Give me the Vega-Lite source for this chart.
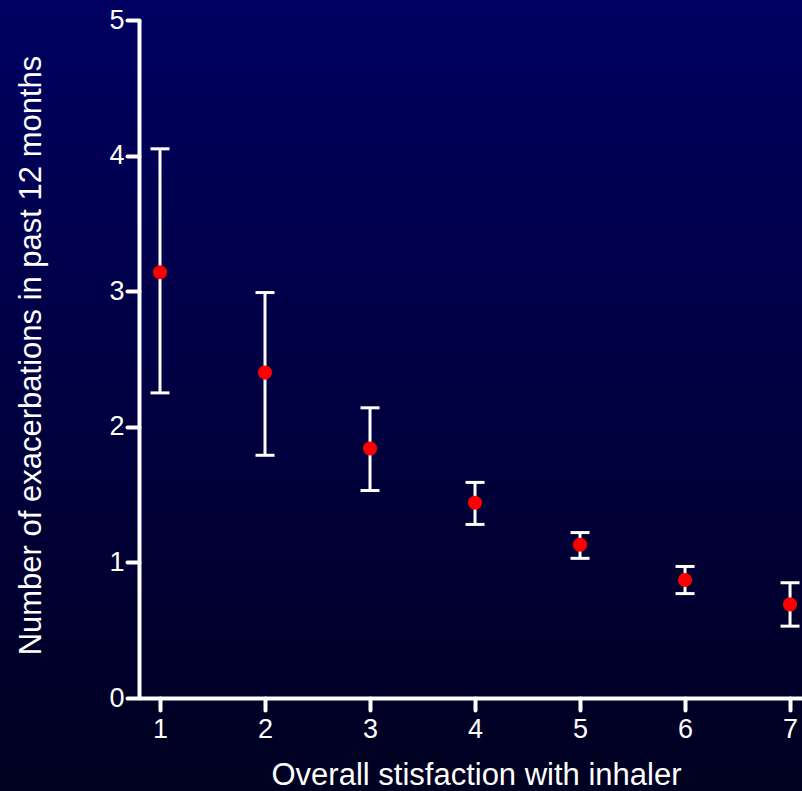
{
  "$schema": "https://vega.github.io/schema/vega-lite/v6.json",
  "width": 802,
  "height": 791,
  "autosize": {"type": "none"},
  "padding": 0,
  "background": "#000022",
  "config": {
    "view": {
      "stroke": null,
      "fill": {"gradient": "linear", "x1": 0, "y1": 0, "x2": 0, "y2": 1,
        "stops": [{"offset": 0, "color": "#000062"}, {"offset": 1, "color": "#000020"}]}
    },
    "axis": {
      "domainColor": "white", "domainWidth": 4, "tickColor": "white", "tickWidth": 4,
      "tickSize": 12, "tickCap": "round", "labelColor": "white", "labelFont": "Liberation Sans",
      "labelFontSize": 27, "titleColor": "white", "titleFont": "Liberation Sans",
      "titleFontWeight": "normal", "titleFontSize": 31, "grid": false, "format": "d"
    }
  },
  "data": {"values": [
    {"score": 1, "mean": 3.14, "low": 2.25, "high": 4.05},
    {"score": 2, "mean": 2.40, "low": 1.79, "high": 2.99},
    {"score": 3, "mean": 1.84, "low": 1.53, "high": 2.14},
    {"score": 4, "mean": 1.44, "low": 1.28, "high": 1.59},
    {"score": 5, "mean": 1.13, "low": 1.03, "high": 1.22},
    {"score": 6, "mean": 0.87, "low": 0.77, "high": 0.97},
    {"score": 7, "mean": 0.69, "low": 0.53, "high": 0.85}
  ]},
  "encoding": {
    "x": {"field": "score", "type": "quantitative",
      "scale": {"domain": [0.8, 7.114], "range": [139, 802], "nice": false, "zero": false},
      "axis": {"values": [1, 2, 3, 4, 5, 6, 7], "offset": -93, "labelPadding": 6, "format": "d",
        "title": "Overall stisfaction with inhaler", "titleX": 476, "titleY": 86,
        "titleBaseline": "alphabetic", "titleAlign": "center", "titleAnchor": null}}
  },
  "layer": [
    {
      "mark": {"type": "rule", "color": "white", "strokeWidth": 3},
      "encoding": {
        "y": {"field": "low", "type": "quantitative",
          "scale": {"domain": [0, 5], "range": [698, 20], "nice": false, "zero": false},
          "axis": {"values": [0, 1, 2, 3, 4, 5], "offset": -139, "labelPadding": 3, "format": "d",
            "title": "Number of exacerbations in past 12 months", "titleX": -108, "titleY": 355,
            "titleAngle": -90, "titleBaseline": "middle", "titleAlign": "center", "titleAnchor": null}},
        "y2": {"field": "high"}
      }
    },
    {
      "mark": {"type": "tick", "color": "white", "orient": "horizontal", "size": 19, "thickness": 3, "opacity": 1},
      "encoding": {"y": {"field": "low", "type": "quantitative"}}
    },
    {
      "mark": {"type": "tick", "color": "white", "orient": "horizontal", "size": 19, "thickness": 3, "opacity": 1},
      "encoding": {"y": {"field": "high", "type": "quantitative"}}
    },
    {
      "mark": {"type": "point", "filled": true, "shape": "circle", "color": "#ff0000", "size": 200, "opacity": 1},
      "encoding": {"y": {"field": "mean", "type": "quantitative"}}
    }
  ]
}
